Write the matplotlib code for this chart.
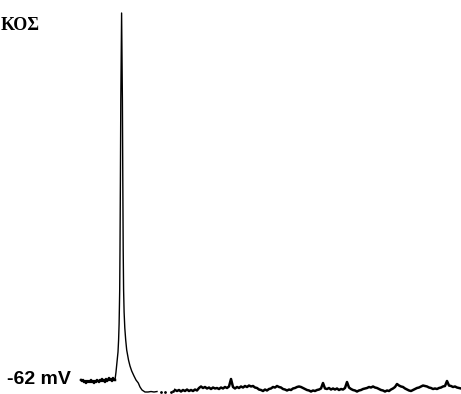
import numpy as np
import matplotlib.pyplot as plt

# membrane potential trace (mV), time in ms
# resting part before the spike, sampled every 0.5 ms
v_pre = [-61.5, -61.75, -61.5, -62, -61.75, -62.25, -61.75, -62, -61.75, -62,
         -61.5, -62, -61.75, -62.25, -61.75, -62, -61.5, -61.75, -62, -61.5,
         -61.75, -61.25, -61.75, -61.5, -62, -61.25, -61.75, -61.5, -61, -61.5,
         -61.25, -61.75, -61, -61.5, -61.5]

# action potential and repolarisation
t_spike = [17.5, 18, 18.5, 18.8, 19.05, 19.25, 19.35, 19.5, 19.7, 19.9, 20.3,
           20.7, 20.9, 21.1, 21.3, 21.55, 21.9, 22.35, 22.85, 23.75, 24.5,
           25.35, 26.5, 27.5, 28.65, 29.5, 30.5, 32, 33.5, 35, 36.5, 38]
v_spike = [-59.5, -57, -54.5, -51.5, -47.5, -42, -39, -29, -11.5, 8.5, 30.25,
           8.5, -11.5, -29, -39, -44.5, -48.5, -51.5, -54, -56.5, -58,
           -59.25, -60.5, -61.5, -62.25, -63.25, -64, -64.5, -64.5, -64.38, -64.5, -64.38]

# a few isolated samples in the gap
t_dots = [40, 42, 45, 46]
v_dots = [-64.38, -64.5, -64.38, -64.25]

# after-spike trace, sampled every 1 ms from 47 ms
v_post = [-64, -64.25, -64, -64.38, -64, -64.25, -63.88, -64.25, -64, -64.25,
          -63.88, -64.12, -63.5, -63.12, -63.5, -63.25, -63.62, -63.38, -63.75, -63.38,
          -63.62, -63.5, -63.75, -63.38, -63.62, -63.25, -63.5, -63.12, -61.25, -63.25,
          -63.62, -63.25, -63.5, -63.12, -63.38, -63, -63.25, -62.88, -63.12, -63,
          -63.38, -63.5, -63.88, -64, -64.25, -63.88, -64.12, -63.75, -63.62, -63.25,
          -63.38, -63, -63.25, -63.38, -63.75, -63.88, -64.12, -63.88, -64, -63.62,
          -63.5, -63.25, -63.12, -63.25, -63.5, -63.75, -64, -64.12, -64.38, -64.12,
          -64.25, -64, -63.88, -63.62, -62.25, -63.62, -63.75, -63.5, -63.88, -63.62,
          -63.88, -63.62, -64, -63.75, -63.88, -63.5, -62, -63.38, -63.75, -64,
          -64.12, -64.38, -64.12, -64, -63.75, -63.62, -63.5, -63.25, -63.38, -63.12,
          -63.38, -63.5, -63.75, -64, -64.12, -64.38, -64.12, -64.25, -63.88, -63.62,
          -63.25, -62.5, -62.88, -63.12, -63.25, -63.62, -63.88, -64.12, -64.25, -64,
          -63.75, -63.5, -63.38, -63.12, -62.88, -63, -63.12, -63.38, -63.5, -63.75,
          -63.62, -63.75, -63.5, -63.38, -63.12, -63, -61.75, -62.88, -63, -63.25,
          -63.12, -63.38, -63.5, -63.62]

t_pre = np.arange(len(v_pre)) * 0.5
t_post = 47 + np.arange(len(v_post)) * 1.0

fig = plt.figure(figsize=(4.61, 3.94), dpi=100)
ax = fig.add_axes([0, 0, 1, 1])

ax.plot(t_pre, v_pre, color='black', lw=1.8)
ax.plot(np.concatenate([t_pre[-1:], t_spike]), np.concatenate([v_pre[-1:], v_spike]),
        color='black', lw=1.0)
ax.plot(t_dots, v_dots, 'k.', ms=2)
ax.plot(t_post, v_post, color='black', lw=1.8)

ax.set_xlim(-40.5, 190)
ax.set_ylim(-65, 33.5)
ax.axis('off')

ax.text(-37, -61.5, '-62 mV', fontsize=14, fontweight='bold',
        family='Liberation Sans', ha='left', va='center')
fig.text(1 / 461, 1 - 25 / 394, 'ΚΟΣ', fontsize=13, fontweight='bold',
         family='Liberation Serif', ha='left', va='center')

fig.savefig('out.png', dpi=100)
